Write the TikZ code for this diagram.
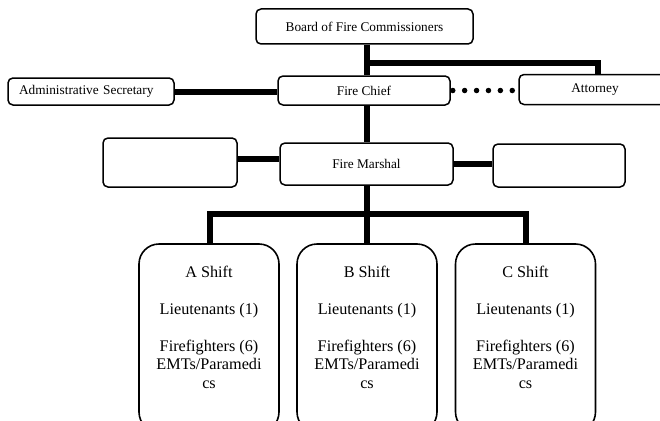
\documentclass[tikz,border=0pt]{standalone}
\usepackage{fontspec}
\setmainfont{Liberation Serif}
\begin{document}
\begin{tikzpicture}[x=1pt,y=-1pt,
  box/.style={draw, line width=1.5pt, rounded corners=5pt, inner sep=0pt, font=\fontsize{13.3}{15}\selectfont},
  shiftbox/.style={draw, line width=1.6pt, rounded corners=20pt, minimum width=140pt, minimum height=188pt, inner sep=0pt},
  shifttext/.style={align=center, inner sep=0pt, anchor=north, font=\fontsize{16.2}{18.4}\selectfont},
  conn/.style={line width=6pt},
  dots/.style={line width=5.5pt, line cap=round, dash pattern=on 0pt off 11.9pt}]
\useasboundingbox (0,0) rectangle (660,420);
\clip (0,0) rectangle (660,420);
\node[box, minimum width=217pt, minimum height=35pt] (board) at (364.5,26.5) {Board of Fire Commissioners};
\node[box, minimum width=172pt, minimum height=29pt] (chief) at (364,90.5) {Fire Chief};
\node[box, text width=144pt, inner xsep=11pt, minimum height=27pt, align=left] (admin) at (91,91.5) {Administrative Secretary};
\node[box, minimum width=152pt, minimum height=30pt] (att) at (595,89.5) {Attorney};
\node[box, minimum width=173pt, minimum height=42pt] (marshal) at (366.5,164) {Fire Marshal};
\node[box, minimum width=134pt, minimum height=49pt] (leftbox) at (170,162.5) {};
\node[box, minimum width=132pt, minimum height=43pt] (rightbox) at (559,165.5) {};
\node[shiftbox] (ashift) at (209,338) {};
\node[shiftbox] (bshift) at (367,338) {};
\node[shiftbox] (cshift) at (525.5,338) {};
\node[shifttext] (atext) at (209,266) {A Shift\\[18.4pt]Lieutenants (1)\\[18.4pt]Firefighters (6)\\EMTs/Paramedi\\cs};
\node[shifttext] (btext) at (367,266) {B Shift\\[18.4pt]Lieutenants (1)\\[18.4pt]Firefighters (6)\\EMTs/Paramedi\\cs};
\node[shifttext] (ctext) at (525.5,266) {C Shift\\[18.4pt]Lieutenants (1)\\[18.4pt]Firefighters (6)\\EMTs/Paramedi\\cs};
% connectors
\draw[conn] ([xshift=2.5pt]board.south) -- ([xshift=2.5pt]board.south |- chief.north);
\coordinate (j1) at (367,63);
\draw[conn] (j1) -| ([xshift=3pt]att.north);
\draw[conn] (admin.east) -- (admin.east -| chief.west);
\draw[dots, shorten <=2pt, shorten >=4pt] (chief.east) -- (chief.east -| att.west);
\draw[conn] ([xshift=3pt]chief.south) -- ([xshift=3pt]chief.south |- marshal.north);
\draw[conn] ([yshift=3.5pt]leftbox.east) -- ([yshift=3.5pt]leftbox.east -| marshal.west);
\draw[conn] (marshal.east) -- (marshal.east -| rightbox.west);
\draw[conn] ([xshift=0.5pt]marshal.south) -- ([xshift=0.5pt]marshal.south |- bshift.north);
\coordinate (bus) at (367,214);
\draw[conn] ([xshift=1pt]ashift.north) |- (bus) -| ([xshift=0.5pt]cshift.north);
\end{tikzpicture}
\end{document}
